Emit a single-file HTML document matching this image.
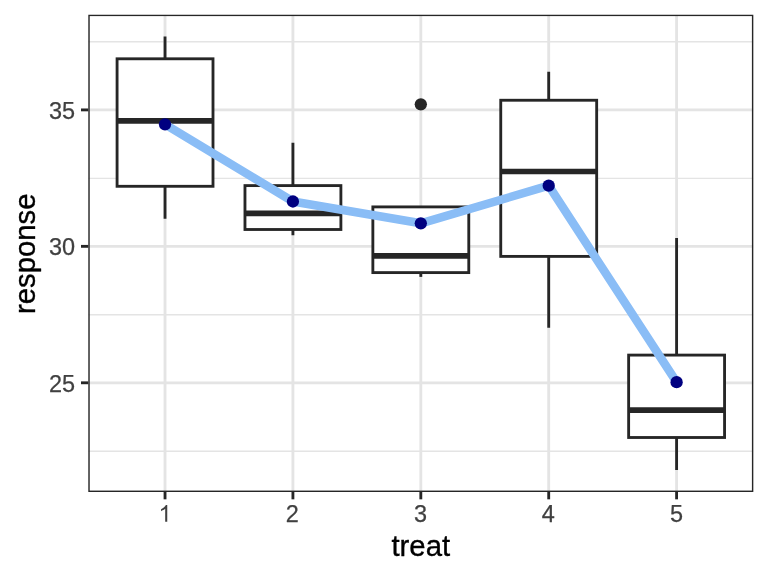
<!DOCTYPE html>
<html><head><meta charset="utf-8"><title>plot</title>
<style>html,body{margin:0;padding:0;background:#fff;}svg{display:block;will-change:transform;}text{font-family:"Liberation Sans",sans-serif;}</style></head>
<body>
<svg width="768" height="576" viewBox="0 0 768 576">
<defs><clipPath id="pc"><rect x="88.30" y="14.67" width="665.03" height="477.33"/></clipPath></defs>
<g clip-path="url(#pc)">
<g stroke="#E4E4E4" stroke-width="1.42" fill="none">
<line x1="88.30" x2="753.33" y1="41.70" y2="41.70"/>
<line x1="88.30" x2="753.33" y1="178.40" y2="178.40"/>
<line x1="88.30" x2="753.33" y1="314.70" y2="314.70"/>
<line x1="88.30" x2="753.33" y1="451.30" y2="451.30"/>
</g>
<g stroke="#E4E4E4" stroke-width="2.85" fill="none">
<line x1="88.30" x2="753.33" y1="109.90" y2="109.90"/>
<line x1="88.30" x2="753.33" y1="246.35" y2="246.35"/>
<line x1="88.30" x2="753.33" y1="382.80" y2="382.80"/>
<line x1="165.03" x2="165.03" y1="14.67" y2="492.00"/>
<line x1="292.92" x2="292.92" y1="14.67" y2="492.00"/>
<line x1="420.82" x2="420.82" y1="14.67" y2="492.00"/>
<line x1="548.71" x2="548.71" y1="14.67" y2="492.00"/>
<line x1="676.60" x2="676.60" y1="14.67" y2="492.00"/>
</g>
<g stroke="#262626" stroke-width="2.85" fill="none" stroke-linecap="butt" stroke-linejoin="miter">
<line x1="165.03" x2="165.03" y1="58.80" y2="36.40"/>
<line x1="165.03" x2="165.03" y1="186.30" y2="218.80"/>
<rect x="117.08" y="58.80" width="95.92" height="127.50" fill="#ffffff"/>
<line x1="117.08" x2="212.99" y1="120.80" y2="120.80" stroke-width="5.70"/>
<line x1="292.92" x2="292.92" y1="185.60" y2="142.80"/>
<line x1="292.92" x2="292.92" y1="229.50" y2="235.30"/>
<rect x="244.97" y="185.60" width="95.92" height="43.90" fill="#ffffff"/>
<line x1="244.97" x2="340.88" y1="213.40" y2="213.40" stroke-width="5.70"/>
<line x1="420.82" x2="420.82" y1="272.60" y2="276.90"/>
<rect x="372.86" y="206.90" width="95.92" height="65.70" fill="#ffffff"/>
<line x1="372.86" x2="468.77" y1="255.90" y2="255.90" stroke-width="5.70"/>
<line x1="548.71" x2="548.71" y1="100.25" y2="71.70"/>
<line x1="548.71" x2="548.71" y1="256.40" y2="327.80"/>
<rect x="500.75" y="100.25" width="95.92" height="156.15" fill="#ffffff"/>
<line x1="500.75" x2="596.66" y1="171.50" y2="171.50" stroke-width="5.70"/>
<line x1="676.60" x2="676.60" y1="355.10" y2="238.00"/>
<line x1="676.60" x2="676.60" y1="437.50" y2="469.90"/>
<rect x="628.64" y="355.10" width="95.92" height="82.40" fill="#ffffff"/>
<line x1="628.64" x2="724.55" y1="410.15" y2="410.15" stroke-width="5.70"/>
</g>
<circle cx="420.82" cy="104.30" r="6.15" fill="#262626"/>
<polyline points="165.03,124.30 292.92,201.50 420.82,223.30 548.71,185.70 676.60,382.20" fill="none" stroke="#8ABDF6" stroke-width="8.54" stroke-linejoin="round" stroke-linecap="butt"/>
<circle cx="165.03" cy="124.30" r="6.15" fill="#000080"/>
<circle cx="292.92" cy="201.50" r="6.15" fill="#000080"/>
<circle cx="420.82" cy="223.30" r="6.15" fill="#000080"/>
<circle cx="548.71" cy="185.70" r="6.15" fill="#000080"/>
<circle cx="676.60" cy="382.20" r="6.15" fill="#000080"/>
<rect x="88.30" y="14.67" width="665.03" height="477.33" fill="none" stroke="#262626" stroke-width="2.85"/>
</g>
<g stroke="#262626" stroke-width="2.85" fill="none">
<line x1="165.03" x2="165.03" y1="492.00" y2="499.33"/>
<line x1="292.92" x2="292.92" y1="492.00" y2="499.33"/>
<line x1="420.82" x2="420.82" y1="492.00" y2="499.33"/>
<line x1="548.71" x2="548.71" y1="492.00" y2="499.33"/>
<line x1="676.60" x2="676.60" y1="492.00" y2="499.33"/>
<line x1="80.97" x2="88.30" y1="109.90" y2="109.90"/>
<line x1="80.97" x2="88.30" y1="246.35" y2="246.35"/>
<line x1="80.97" x2="88.30" y1="382.80" y2="382.80"/>
</g>
<g fill="#404040" font-size="23.47px" stroke="#404040" stroke-width="0.25" stroke-linejoin="round">
<text x="75.10" y="119.40" text-anchor="end">35</text>
<text x="75.10" y="255.05" text-anchor="end">30</text>
<text x="75.10" y="392.30" text-anchor="end">25</text>
<path aria-label="1" transform="translate(158.508,521.80) scale(0.011460,-0.011460)" d="M763 0H583V1147Q518 1085 412.5 1023Q307 961 223 930V1104Q374 1175 487 1276Q600 1377 647 1472H763Z"/>
<text x="292.22" y="522.10" text-anchor="middle">2</text>
<text x="420.52" y="522.10" text-anchor="middle">3</text>
<text x="548.21" y="522.10" text-anchor="middle">4</text>
<text x="676.60" y="522.10" text-anchor="middle">5</text>
</g>
<g fill="#000000" font-size="29.33px" stroke="#000000" stroke-width="0.35" stroke-linejoin="round">
<text x="420.81" y="555.50" text-anchor="middle">treat</text>
<text transform="translate(35.10,253.74) rotate(-90)" text-anchor="middle">response</text>
</g>
</svg>
</body></html>
